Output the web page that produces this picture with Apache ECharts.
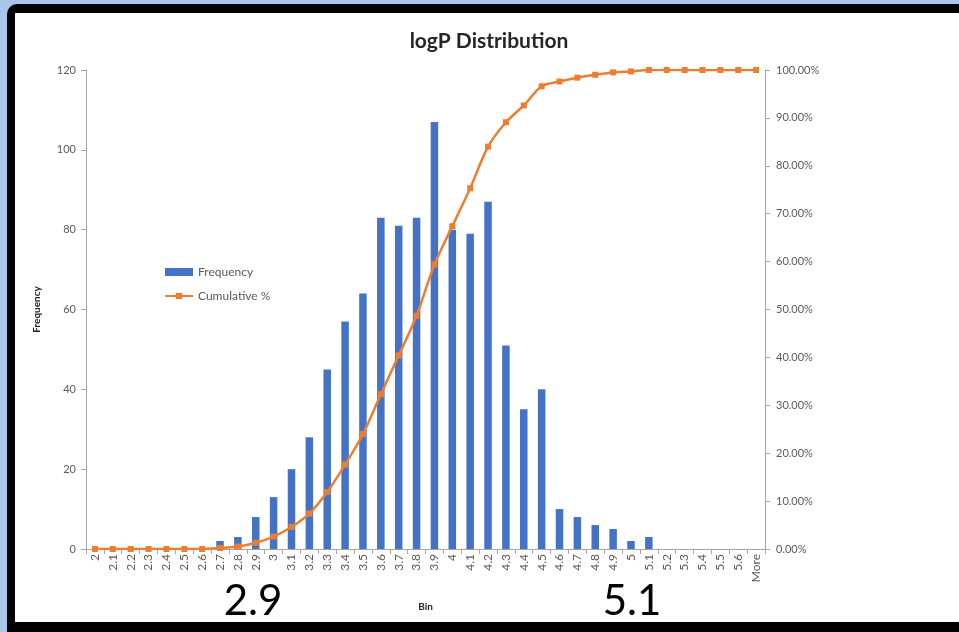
<!DOCTYPE html>
<html>
<head>
<meta charset="utf-8">
<title>logP Distribution</title>
<script src="https://cdn.jsdelivr.net/npm/echarts@6/dist/echarts.min.js"></script>
<style>
  html, body { margin: 0; padding: 0; }
  body { width: 959px; height: 632px; background: #a9c5ea; position: relative; overflow: hidden; }
  .frame {
    position: absolute; left: 7px; top: 4px; width: 970px; height: 640px;
    background: #000; border-radius: 10px;
  }
  .inner {
    position: absolute; left: 15px; top: 13px; width: 944px; height: 609px;
    background: #fff;
  }
  #chart { position: absolute; left: 0; top: 0; width: 959px; height: 632px; }
</style>
</head>
<body>
<div class="frame"></div>
<div class="inner"></div>
<div id="chart"></div>
<script>
// bins as Excel printed them
const bins = ['2', '2.1', '2.2', '2.3', '2.4', '2.5', '2.6', '2.7', '2.8', '2.9',
  '3', '3.1', '3.2', '3.3', '3.4', '3.5', '3.6', '3.7', '3.8', '3.9',
  '4', '4.1', '4.2', '4.3', '4.4', '4.5', '4.6', '4.7', '4.8', '4.9',
  '5', '5.1', '5.2', '5.3', '5.4', '5.5', '5.6', 'More']

const frequency = [0, 0, 0, 0, 0, 0, 0, 2, 3, 8,
  13, 20, 28, 45, 57, 64, 83, 81, 83, 107,
  80, 79, 87, 51, 35, 40, 10, 8, 6, 5,
  2, 3, 0, 0, 0, 0, 0, 0]

// cumulative share
const cumulative = [0, 0, 0, 0, 0, 0, 0, 0.002, 0.005, 0.013,
  0.026, 0.046, 0.074, 0.119, 0.176, 0.24, 0.323, 0.404, 0.487, 0.594,
  0.674, 0.753, 0.84, 0.891, 0.926, 0.966, 0.976, 0.984, 0.99, 0.995,
  0.997, 1, 1, 1, 1, 1, 1, 1]

const freqTicks = { min: 0, max: 120, interval: 20 }
const pctTicks = { min: 0, max: 1, interval: 0.1 }

const notes = [
  { text: '2.9', x: 253, y: 601 },
  { text: '5.1', x: 632, y: 601 },
]

const font = 'Lato, "Open Sans", sans-serif'
const labelColor = '#595959'
const axisColor = '#a6a6a6'

const chart = echarts.init(document.getElementById('chart'), null, { renderer: 'canvas' })

chart.setOption({
  animation: false,
  backgroundColor: 'transparent',
  textStyle: { fontFamily: font },
  grid: { left: 86, right: 194, top: 70, bottom: 83, containLabel: false },
  legend: {
    orient: 'vertical',
    left: 159,
    top: 261,
    itemWidth: 28,
    itemHeight: 8,
    itemGap: 12,
    textStyle: { fontSize: 12, color: labelColor, fontFamily: font },
    data: [
      { name: 'Frequency', icon: 'rect' },
      { name: 'Cumulative %' },
    ],
  },
  xAxis: {
    type: 'category',
    data: bins,
    name: 'Bin',
    nameLocation: 'middle',
    nameGap: 53,
    nameTextStyle: { fontSize: 10, fontWeight: 'bold', color: '#262626' },
    axisLine: { lineStyle: { color: axisColor } },
    axisTick: { show: true, length: 5, lineStyle: { color: axisColor } },
    axisLabel: { interval: 0, rotate: 90, fontSize: 12, color: labelColor, margin: 5 },
  },
  yAxis: [
    {
      type: 'value',
      ...freqTicks,
      name: 'Frequency',
      nameLocation: 'middle',
      nameGap: 44,
      nameRotate: 90,
      nameTextStyle: { fontSize: 10, fontWeight: 'bold', color: '#262626' },
      axisLine: { show: true, lineStyle: { color: axisColor } },
      axisTick: { show: true, length: 5, lineStyle: { color: axisColor } },
      axisLabel: { fontSize: 11, color: labelColor, margin: 10 },
      splitLine: { show: false },
    },
    {
      type: 'value',
      ...pctTicks,
      position: 'right',
      axisLine: { show: true, lineStyle: { color: axisColor } },
      axisTick: { show: true, length: 5, lineStyle: { color: axisColor } },
      axisLabel: {
        fontSize: 11,
        color: labelColor,
        margin: 11,
        formatter: (v) => (v * 100).toFixed(2) + '%',
      },
      splitLine: { show: false },
    },
  ],
  series: [
    {
      name: 'Frequency',
      type: 'bar',
      data: frequency,
      barWidth: '42%',
      itemStyle: { color: '#4472c4' },
    },
    {
      name: 'Cumulative %',
      type: 'line',
      yAxisIndex: 1,
      data: cumulative,
      smooth: 0.3,
      symbol: 'rect',
      symbolSize: 6,
      lineStyle: { width: 2.5, color: '#ed7d31' },
      itemStyle: { color: '#ed7d31' },
    },
  ],
  graphic: [
    {
      type: 'text',
      x: 489,
      y: 41,
      style: {
        text: 'logP Distribution',
        font: 'bold 21px ' + font,
        fill: '#262626',
        textAlign: 'center',
        textVerticalAlign: 'middle',
      },
    },
    ...notes.map((n) => ({
      type: 'text',
      x: n.x,
      y: n.y,
      style: {
        text: n.text,
        font: '42px ' + font,
        fill: '#000',
        textAlign: 'center',
        textVerticalAlign: 'middle',
      },
    })),
  ],
})
</script>
</body>
</html>
